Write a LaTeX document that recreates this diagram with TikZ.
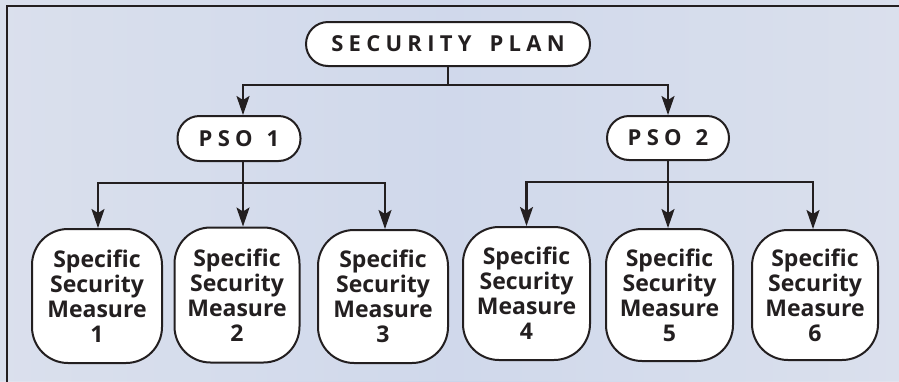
\documentclass[tikz,border=0pt]{standalone}
\usepackage{fontspec}
\setmainfont{Open Sans}
\usetikzlibrary{arrows.meta}
\definecolor{bgA}{RGB}{214,221,236}
\definecolor{bgB}{RGB}{202,212,234}
\definecolor{bgC}{RGB}{224,228,239}
\definecolor{ink}{RGB}{35,31,32}
\tikzset{
  stadium/.style={draw=ink, line width=2pt, fill=white, inner sep=0pt, text=ink,
    font=\bfseries\fontsize{22}{25}\selectfont\addfontfeature{LetterSpace=24}},
  measure/.style={draw=ink, line width=2pt, fill=white, inner sep=0pt, text=ink, align=center,
    rounded corners=36pt, font=\bfseries\fontsize{23}{25}\selectfont},
  link/.style={draw=ink, line width=2.2pt, line join=miter},
  arr/.style={link, -{Stealth[length=19pt,width=13pt,inset=4pt]}}
}
\begin{document}
\begin{tikzpicture}[x=1pt,y=-1pt]
\useasboundingbox (0,0) rectangle (899,381);
\shade[left color=bgC, right color=bgC, middle color=bgB] (0,0) rectangle (899,381);
\fill[bgA, opacity=0.5] (0,0) rectangle (899,381);
\draw[ink, line width=2.5pt] (7,385) -- (7,6) -- (903,6);
% top
\node[stadium, minimum width=284pt, minimum height=44pt, rounded corners=22pt] (plan) at (448,44) {SECURITY \hspace{7pt}PLAN};
\node[stadium, minimum width=123pt, minimum height=45pt, rounded corners=22pt] (pso1) at (239,138.5) {PSO \hspace{3pt}1};
\node[stadium, minimum width=122pt, minimum height=44pt, rounded corners=22pt] (pso2) at (668,138) {PSO \hspace{3pt}2};
% measures
\node[measure, minimum width=130pt, minimum height=134pt] (m1) at (97,296) {Specific\\Security\\Measure\\1};
\node[measure, minimum width=125pt, minimum height=135pt] (m2) at (237,295) {Specific\\Security\\Measure\\2};
\node[measure, minimum width=130pt, minimum height=133pt] (m3) at (383,296.5) {Specific\\Security\\Measure\\3};
\node[measure, minimum width=127pt, minimum height=133pt] (m4) at (526.5,293.5) {Specific\\Security\\Measure\\4};
\node[measure, minimum width=127pt, minimum height=132pt] (m5) at (669.5,295) {Specific\\Security\\Measure\\5};
\node[measure, minimum width=126pt, minimum height=130pt] (m6) at (815,295) {Specific\\Security\\Measure\\6};
% connectors
\coordinate (j0) at (448,85);
\coordinate (j1) at (243,183);
\coordinate (j2) at (668,182);
\draw[link] (plan.south) -- (j0);
\draw[arr] (j0) -| ([xshift=4pt]pso1.north);
\draw[arr] (j0) -| (pso2.north);
\draw[link] ([xshift=4pt]pso1.south) -- (j1);
\draw[arr] (j1) -| ([xshift=1pt]m1.north);
\draw[arr] (j1) -- ([xshift=6pt]m2.north);
\draw[arr] (j1) -| ([xshift=2pt]m3.north);
\draw[link] (pso2.south) -- (j2);
\draw[arr] (j2) -| (m4.north);
\draw[arr] (j2) -| ([xshift=-1.5pt]m5.north);
\draw[arr] (j2) -| ([xshift=-2pt]m6.north);
\end{tikzpicture}
\end{document}
